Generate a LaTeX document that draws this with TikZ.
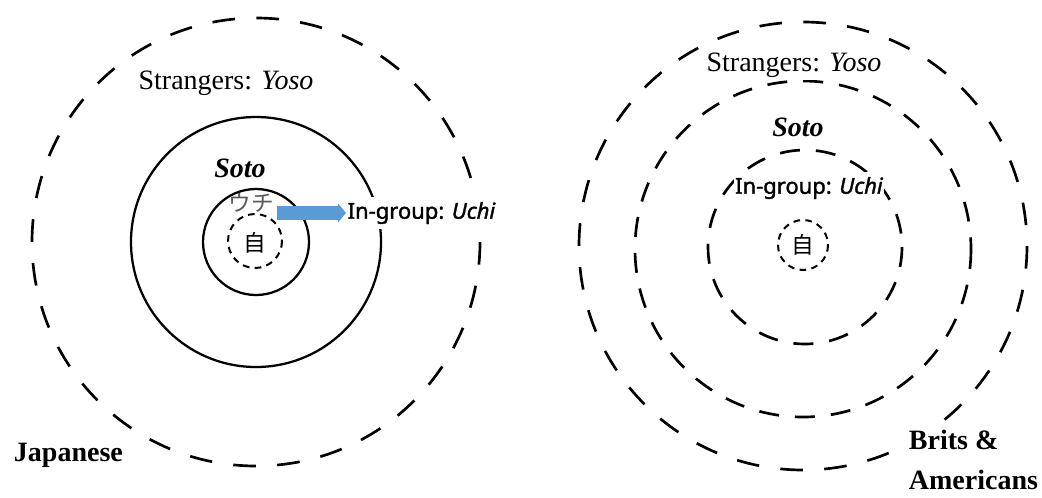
\documentclass[tikz,border=0pt]{standalone}
\usepackage{fontspec}
\setmainfont{Liberation Serif}
\setsansfont{Noto Sans}
\newfontfamily\heavysans{Noto Sans}[FakeBold=1.6]
\newfontfamily\jpfont{Noto Sans CJK JP}
\usetikzlibrary{arrows.meta}
\definecolor{arrowblue}{HTML}{5B9BD5}

\begin{document}
\begin{tikzpicture}[x=0.75pt, y=-0.75pt, every node/.style={inner sep=0pt},
  bigdash/.style={line width=2pt, dash pattern=on 17pt off 16pt},
  middash/.style={line width=2pt, dash pattern=on 15pt off 12pt},
  smalldash/.style={line width=1.5pt, dash pattern=on 5pt off 4pt},
  ring/.style={line width=1.7pt},
  serif label/.style={fill=white, inner sep=2pt, font=\fontsize{21}{25}\selectfont},
  sans label/.style={fill=white, inner xsep=1pt, inner ysep=4pt, font=\heavysans\fontsize{16.5}{20}\selectfont},
  kanji/.style={font=\jpfont\fontsize{17}{20}\selectfont},
  >={Triangle[length=6pt,width=14pt]}]
\useasboundingbox (0,0) rectangle (1042,497);
\coordinate (jpc) at (256,242);
\coordinate (enc) at (803,246);
% Japanese
\draw[bigdash] (jpc) circle [radius=224];
\draw[ring] (jpc) circle [radius=125];
\draw[ring] (jpc) circle [radius=53];
\draw[smalldash] (255,241) circle [radius=27];
\node[serif label] (jpyoso) at (226,83) {Strangers: \textit{Yoso}};
\node[serif label, fill=none] (jpsoto) at (240,168) {\textbf{\textit{Soto}}};
\node[kanji, text=black!65] (jpuchi) at (251,203) {ウチ};
\node[kanji] (jpself) at (255,243) {自};
\node[sans label, anchor=west] (jpin) at (346,213) {In-group: \textit{Uchi}};
\coordinate (arrowtail) at (277,213);
\draw[->, line width=10pt, arrowblue] (arrowtail) -- (jpin.west);
\node[serif label, anchor=west] (jplabel) at (11,455) {\textbf{Japanese}};
% Brits and Americans
\draw[bigdash] (enc) circle [radius=224];
\draw[middash] (803,249) circle [radius=168];
\draw[middash] (805,247) circle [radius=97];
\draw[smalldash] (803,245) circle [radius=25];
\node[serif label] (enyoso) at (794,65) {Strangers: \textit{Yoso}};
\node[serif label] (ensoto) at (798,127) {\textbf{\textit{Soto}}};
\node[sans label] (enin) at (809,188) {In-group: \textit{Uchi}};
\node[kanji] (enself) at (803,245) {自};
\node[serif label, anchor=west, align=left, font=\bfseries\fontsize{21}{30}\selectfont] (enlabel) at (906,460) {Brits \&\\Americans};
\end{tikzpicture}
\end{document}
